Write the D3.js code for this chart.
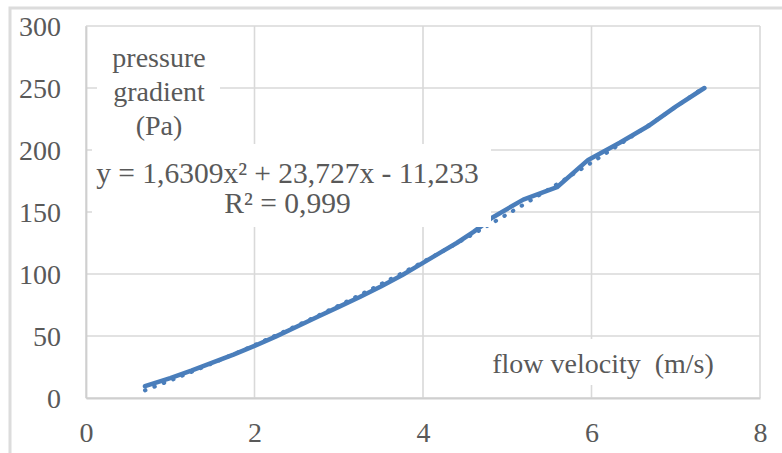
<!DOCTYPE html>
<html>
<head>
<meta charset="utf-8">
<script src="https://cdn.jsdelivr.net/npm/d3@7"></script>
<style>
  html, body { margin: 0; padding: 0; background: #fff; }
  svg { display: block; }
</style>
</head>
<body>
<svg id="chart" width="782" height="453"></svg>
<script>
// Data
const velocity = [0.7, 1.0, 1.25, 1.5, 1.75, 2.0, 2.25, 2.5, 2.75, 3.0, 3.25, 3.5, 3.75, 4.0, 4.2, 4.4, 4.6, 4.68,
  4.81, 5.19, 5.59, 5.96, 6.34, 6.69, 7.0, 7.34];
const pressure = [9.5, 16, 22, 28.5, 35, 42, 49.5, 57.5, 65.5, 73.5, 81.5, 90, 99, 109, 117, 125, 134, 138,
  145, 160, 170, 192, 206, 220, 235, 250];

// Polynomial trendline shown on the chart (a, b, c for ax^2 + bx + c)
const trendCoef = [1.6309, 23.727, -11.233];

const xTicks = [0, 2, 4, 6, 8];
const yTicks = [0, 50, 100, 150, 200, 250, 300];

const yTitleLines = ["pressure", "gradient", "(Pa)"];
const xTitle = "flow velocity\u00a0\u00a0(m/s)";
const eqLines = ["y = 1,6309x² + 23,727x - 11,233", "R² = 0,999"];

// Layout / style
const CONFIG = {
  plot: { left: 86, right: 760, top: 26, bottom: 398 },
  font: "'Liberation Serif', 'Times New Roman', serif",
  fontSize: 28,
  eqFontSize: 29.5,
  textColor: "#595959",
  gridColor: "#d9d9d9",
  lineColor: "#4a7ebb",
};

const svg = d3.select("#chart");
const P = CONFIG.plot;

const x = d3.scaleLinear().domain([0, 8]).range([P.left, P.right]);
const y = d3.scaleLinear().domain([0, 300]).range([P.bottom, P.top]);

// outer chart frame (only top/left are inside the picture)
svg.append("rect")
  .attr("x", 10).attr("y", 8)
  .attr("width", 900).attr("height", 600)
  .attr("fill", "none")
  .attr("stroke", "#dcdcdc")
  .attr("stroke-width", 3);

// Gridlines
const grid = svg.append("g");
grid.selectAll("line.h")
  .data(yTicks)
  .join("line")
  .attr("x1", P.left).attr("x2", P.right)
  .attr("y1", (d) => y(d)).attr("y2", (d) => y(d))
  .attr("stroke", CONFIG.gridColor)
  .attr("stroke-width", 1.6);
grid.selectAll("line.v")
  .data(xTicks)
  .join("line")
  .attr("y1", P.top).attr("y2", P.bottom)
  .attr("x1", (d) => x(d)).attr("x2", (d) => x(d))
  .attr("stroke", CONFIG.gridColor)
  .attr("stroke-width", 1.6);

// Axes (no tick marks, just labels)
const xAxis = svg.append("g")
  .attr("transform", `translate(0,${P.bottom})`)
  .call(d3.axisBottom(x).tickValues(xTicks).tickSize(0).tickPadding(0).tickFormat(d3.format("d")));
xAxis.select(".domain").attr("stroke", "#cfcfcf").attr("stroke-width", 1.8);
xAxis.selectAll("text")
  .attr("y", 44).attr("dy", 0);

const yAxis = svg.append("g")
  .attr("transform", `translate(${P.left},0)`)
  .call(d3.axisLeft(y).tickValues(yTicks).tickSize(0).tickPadding(25).tickFormat(d3.format("d")));
yAxis.select(".domain").attr("stroke", "#cfcfcf").attr("stroke-width", 1.8);
yAxis.selectAll("text").attr("dy", "0.34em");

svg.selectAll(".tick text")
  .attr("fill", CONFIG.textColor)
  .style("font-family", CONFIG.font)
  .style("font-size", CONFIG.fontSize + "px");

// Data line
const points = velocity.map((v, i) => ({ v, p: pressure[i] }));
const line = d3.line()
  .x((d) => x(d.v))
  .y((d) => y(d.p));

svg.append("path")
  .datum(points)
  .attr("d", line)
  .attr("fill", "none")
  .attr("stroke", CONFIG.lineColor)
  .attr("stroke-width", 4.5)
  .attr("stroke-linecap", "round")
  .attr("stroke-linejoin", "round");

// Dotted trendline
const trend = velocity.map((v) => ({ v, p: trendCoef[0] * v * v + trendCoef[1] * v + trendCoef[2] }));
svg.append("path")
  .datum(trend)
  .attr("d", line.curve(d3.curveNatural))
  .attr("fill", "none")
  .attr("stroke", CONFIG.lineColor)
  .attr("stroke-width", 4)
  .attr("stroke-linecap", "round")
  .attr("stroke-dasharray", "0.5 9.5");

// helper: text block on white background
function textBlock(lines, cx, baselines, box, size) {
  svg.append("rect")
    .attr("x", box[0]).attr("y", box[1])
    .attr("width", box[2]).attr("height", box[3])
    .attr("fill", "#fff");
  svg.append("g")
    .selectAll("text")
    .data(lines)
    .join("text")
    .attr("x", cx)
    .attr("y", (d, i) => baselines[i])
    .attr("text-anchor", "middle")
    .attr("fill", CONFIG.textColor)
    .style("font-family", CONFIG.font)
    .style("font-size", (size || CONFIG.fontSize) + "px")
    .text((d) => d);
}

textBlock(yTitleLines, 159, [67, 101, 135], [97, 46, 123, 98]);
textBlock(eqLines, 287.5, [183, 213], [92, 144, 399, 83], CONFIG.eqFontSize);
textBlock([xTitle], 603, [373], [486, 339, 236, 46]);
</script>
</body>
</html>
